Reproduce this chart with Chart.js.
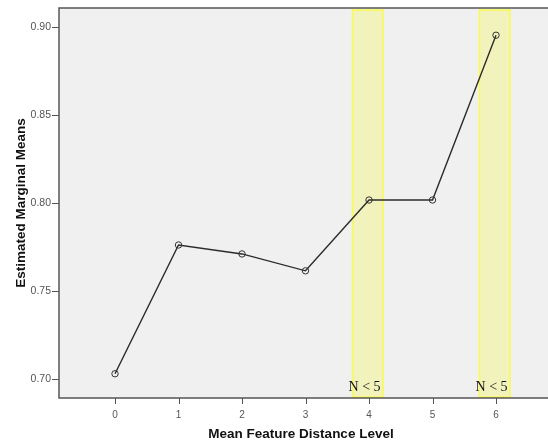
<html>
<head>
    <title>Estimated Marginal Means</title>
    <script src="https://cdn.jsdelivr.net/npm/chart.js"></script>
    <style>
        body { margin: 0; background: #ffffff; }
        #wrap { width: 548px; height: 442px; }
    </style>
</head>
<body>
    <div id="wrap"><canvas id="emmChart" width="548" height="442"></canvas></div>

    <script>
        // distance levels and the estimated marginal means
        const levels = [0, 1, 2, 3, 4, 5, 6];
        const means = [0.7028, 0.7761, 0.7710, 0.7614, 0.8017, 0.8017, 0.8955];
        const yTicks = [0.70, 0.75, 0.80, 0.85, 0.90];
        const smallGroups = [4, 6];   // levels flagged with N < 5
        const smallLabel = 'N < 5';

        const points = levels.map((x, i) => ({ x: x, y: means[i] }));

        // grey plot background, frame and the yellow highlight bands
        const backdrop = {
            id: 'backdrop',
            beforeDatasetsDraw(chart) {
                const { ctx, chartArea: a, scales } = chart;
                const right = chart.width;
                ctx.save();
                ctx.fillStyle = '#f0f0f0';
                ctx.fillRect(a.left, a.top, right - a.left, a.bottom - a.top);

                smallGroups.forEach(g => {
                    const x1 = scales.x.getPixelForValue(g - 0.26);
                    const x2 = scales.x.getPixelForValue(g + 0.22);
                    ctx.fillStyle = '#f2f2bc';
                    ctx.fillRect(x1, a.top + 2, x2 - x1, a.bottom - a.top - 3);
                    ctx.strokeStyle = '#fafa50';
                    ctx.lineWidth = 1.5;
                    ctx.strokeRect(x1, a.top + 2, x2 - x1, a.bottom - a.top - 3);

                    ctx.fillStyle = '#111';
                    ctx.font = '14px "Liberation Serif", "DejaVu Serif", serif';
                    ctx.textAlign = 'center';
                    ctx.textBaseline = 'alphabetic';
                    ctx.fillText(smallLabel, scales.x.getPixelForValue(g - 0.07), a.bottom - 7);
                });

                ctx.strokeStyle = '#555';
                ctx.lineWidth = 1.5;
                ctx.beginPath();
                ctx.moveTo(right, a.top);
                ctx.lineTo(a.left, a.top);
                ctx.lineTo(a.left, a.bottom);
                ctx.lineTo(right, a.bottom);
                ctx.stroke();
                ctx.restore();
            }
        };

        new Chart(document.getElementById('emmChart'), {
            type: 'scatter',
            data: {
                datasets: [{
                    data: points,
                    showLine: true,
                    borderColor: '#2b2b2b',
                    borderWidth: 1.4,
                    pointRadius: 3.2,
                    pointBorderWidth: 1,
                    pointBorderColor: '#333',
                    pointBackgroundColor: 'rgba(0,0,0,0)'
                }]
            },
            options: {
                responsive: false,
                animation: false,
                layout: { padding: { top: 8, right: 0, left: 0, bottom: 0 } },
                plugins: { legend: { display: false }, tooltip: { enabled: false } },
                scales: {
                    x: {
                        type: 'linear',
                        min: -0.882,
                        max: 6.74,
                        afterBuildTicks: s => { s.ticks = levels.map(v => ({ value: v })); },
                        afterFit: s => { s.height = 44; },
                        grid: { display: false },
                        border: { display: false },
                        ticks: {
                            color: '#555',
                            font: { family: 'Arial, "Liberation Sans"', size: 10 },
                            padding: 3
                        },
                        title: {
                            display: true,
                            text: 'Mean Feature Distance Level',
                            color: '#111',
                            font: { family: 'Arial, "Liberation Sans"', size: 13.5, weight: 'bold' },
                            padding: { top: 5, bottom: 0 }
                        }
                    },
                    y: {
                        min: 0.689,
                        max: 0.911,
                        afterBuildTicks: s => { s.ticks = yTicks.map(v => ({ value: v })); },
                        afterFit: s => { s.width = 59; },
                        grid: { display: false },
                        border: { display: false },
                        ticks: {
                            color: '#555',
                            font: { family: 'Arial, "Liberation Sans"', size: 10.5 },
                            callback: v => v.toFixed(2),
                            padding: 0
                        },
                        title: {
                            display: true,
                            text: 'Estimated Marginal Means',
                            color: '#111',
                            font: { family: 'Arial, "Liberation Sans"', size: 13.5, weight: 'bold' },
                            padding: { top: 13, bottom: 0 }
                        }
                    }
                }
            },
            plugins: [backdrop, {
                id: 'tickMarks',
                afterDraw(chart) {
                    const { ctx, chartArea: a, scales } = chart;
                    ctx.save();
                    ctx.strokeStyle = '#555';
                    ctx.lineWidth = 1;
                    ctx.beginPath();
                    yTicks.forEach(v => {
                        const y = Math.round(scales.y.getPixelForValue(v)) + 0.5;
                        ctx.moveTo(a.left - 7, y);
                        ctx.lineTo(a.left, y);
                    });
                    levels.forEach(v => {
                        const x = Math.round(scales.x.getPixelForValue(v)) + 0.5;
                        ctx.moveTo(x, a.bottom);
                        ctx.lineTo(x, a.bottom + 6);
                    });
                    ctx.stroke();
                    ctx.restore();
                }
            }]
        });
    </script>
</body>
</html>
